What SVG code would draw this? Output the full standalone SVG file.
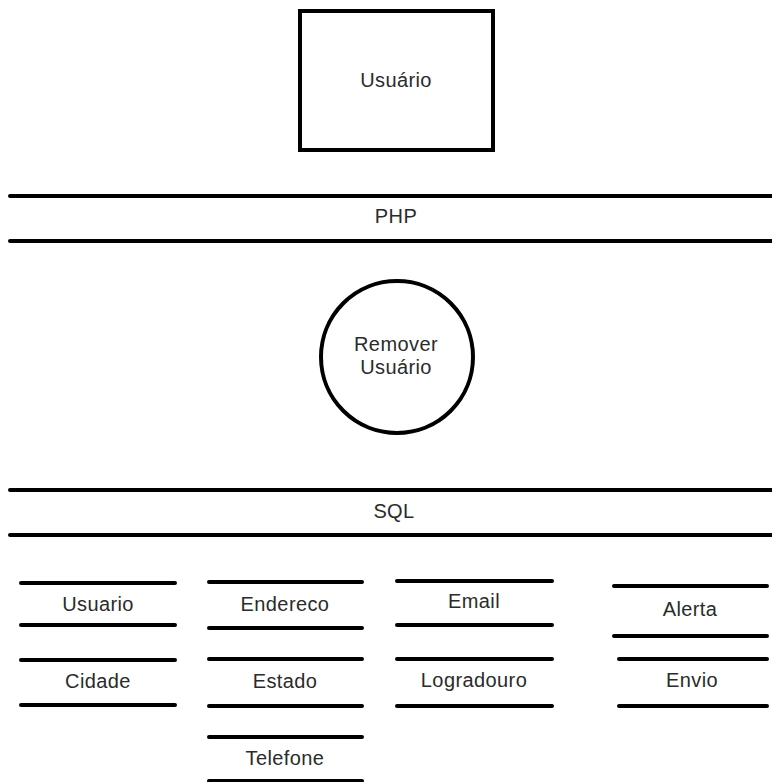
<svg xmlns="http://www.w3.org/2000/svg" width="772" height="782" viewBox="0 0 772 782">
  <style>
    .shape { fill: #ffffff; stroke: #000000; stroke-width: 4; }
    .rule { stroke: #000000; stroke-width: 4; stroke-linecap: round; fill: none; }
    .label { font-family: "Liberation Sans", Arial, sans-serif; font-size: 20px; fill: #2b2b2b; text-anchor: middle; letter-spacing: 0.4px; }
  </style>
  <rect width="772" height="782" fill="#ffffff"/>

  <!-- Actor -->
  <g id="usuario-actor">
    <rect class="shape" x="300" y="11" width="193" height="139"/>
    <text class="label" x="396" y="87">Usuário</text>
  </g>

  <!-- Application layer -->
  <g id="layer-php">
    <line class="rule" x1="10" y1="196" x2="772" y2="196"/>
    <line class="rule" x1="10" y1="241" x2="772" y2="241"/>
    <text class="label" x="396" y="223">PHP</text>
  </g>

  <!-- Process -->
  <g id="process-remover">
    <circle class="shape" cx="397" cy="357" r="76"/>
    <text class="label" x="396" y="351">Remover</text>
    <text class="label" x="396" y="374">Usuário</text>
  </g>

  <!-- Database layer -->
  <g id="layer-sql">
    <line class="rule" x1="10" y1="490" x2="772" y2="490"/>
    <line class="rule" x1="10" y1="535" x2="772" y2="535"/>
    <text class="label" x="394" y="518">SQL</text>
  </g>

  <!-- Data stores -->
  <g id="store-usuario">
    <line class="rule" x1="21" y1="583" x2="175" y2="583"/>
    <line class="rule" x1="21" y1="625" x2="175" y2="625"/>
    <text class="label" x="98" y="611">Usuario</text>
  </g>
  <g id="store-cidade">
    <line class="rule" x1="21" y1="660" x2="175" y2="660"/>
    <line class="rule" x1="21" y1="705" x2="175" y2="705"/>
    <text class="label" x="98" y="688">Cidade</text>
  </g>
  <g id="store-endereco">
    <line class="rule" x1="209" y1="582" x2="362" y2="582"/>
    <line class="rule" x1="209" y1="628" x2="362" y2="628"/>
    <text class="label" x="285" y="611">Endereco</text>
  </g>
  <g id="store-estado">
    <line class="rule" x1="209" y1="659" x2="362" y2="659"/>
    <line class="rule" x1="209" y1="706" x2="362" y2="706"/>
    <text class="label" x="285" y="688">Estado</text>
  </g>
  <g id="store-telefone">
    <line class="rule" x1="209" y1="737" x2="362" y2="737"/>
    <line class="rule" x1="209" y1="781" x2="362" y2="781"/>
    <text class="label" x="285" y="765">Telefone</text>
  </g>
  <g id="store-email">
    <line class="rule" x1="397" y1="581" x2="552" y2="581"/>
    <line class="rule" x1="397" y1="625" x2="552" y2="625"/>
    <text class="label" x="474" y="608">Email</text>
  </g>
  <g id="store-logradouro">
    <line class="rule" x1="397" y1="659" x2="552" y2="659"/>
    <line class="rule" x1="397" y1="706" x2="552" y2="706"/>
    <text class="label" x="474" y="687">Logradouro</text>
  </g>
  <g id="store-alerta">
    <line class="rule" x1="614" y1="586" x2="767" y2="586"/>
    <line class="rule" x1="614" y1="636" x2="767" y2="636"/>
    <text class="label" x="690" y="616">Alerta</text>
  </g>
  <g id="store-envio">
    <line class="rule" x1="619" y1="659" x2="767" y2="659"/>
    <line class="rule" x1="619" y1="706" x2="767" y2="706"/>
    <text class="label" x="692" y="687">Envio</text>
  </g>

  <g id="connectors"></g>
</svg>
